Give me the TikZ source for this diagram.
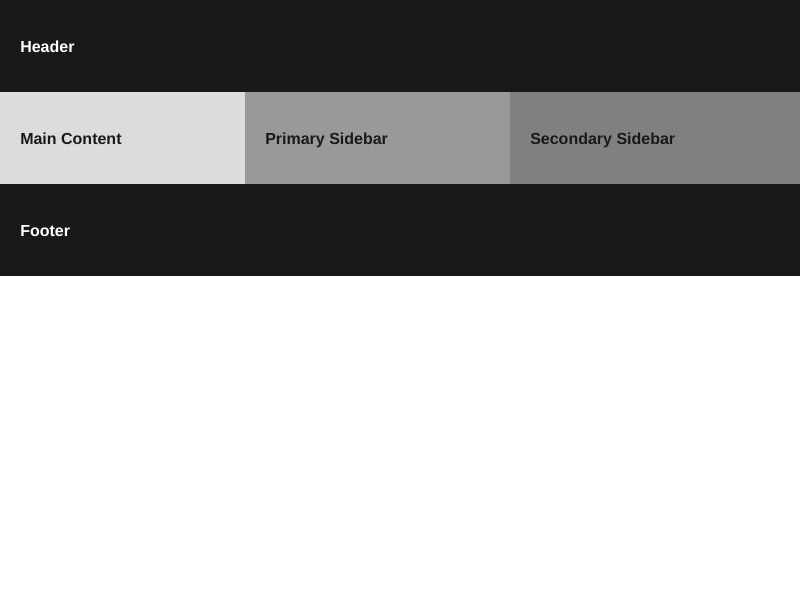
\documentclass[tikz,border=0pt]{standalone}
\usepackage{fontspec}
\setmainfont{Liberation Sans}
\definecolor{dark}{HTML}{191919}
\definecolor{light}{HTML}{DCDCDC}
\definecolor{mid}{HTML}{999999}
\definecolor{midd}{HTML}{808080}
\begin{document}
\begin{tikzpicture}[x=0.75pt,y=-0.75pt,
  lbl/.style={anchor=base west,inner sep=0pt,font=\fontsize{12}{14}\selectfont\bfseries}]
\useasboundingbox (0,0) rectangle (800,600);
\fill[white] (0,0) rectangle (800,600);
\fill[dark] (0,0) rectangle (800,92);
\fill[light] (0,92) rectangle (245,184);
\fill[mid] (245,92) rectangle (510,184);
\fill[midd] (510,92) rectangle (800,184);
\fill[dark] (0,184) rectangle (800,276);
\node[lbl,text=white] (header) at (20,52) {Header};
\node[lbl,text=dark] (main) at (20,144) {Main Content};
\node[lbl,text=dark] (prim) at (265,144) {Primary Sidebar};
\node[lbl,text=dark] (sec) at (530,144) {Secondary Sidebar};
\node[lbl,text=white] (footer) at (20,236) {Footer};
\end{tikzpicture}
\end{document}
